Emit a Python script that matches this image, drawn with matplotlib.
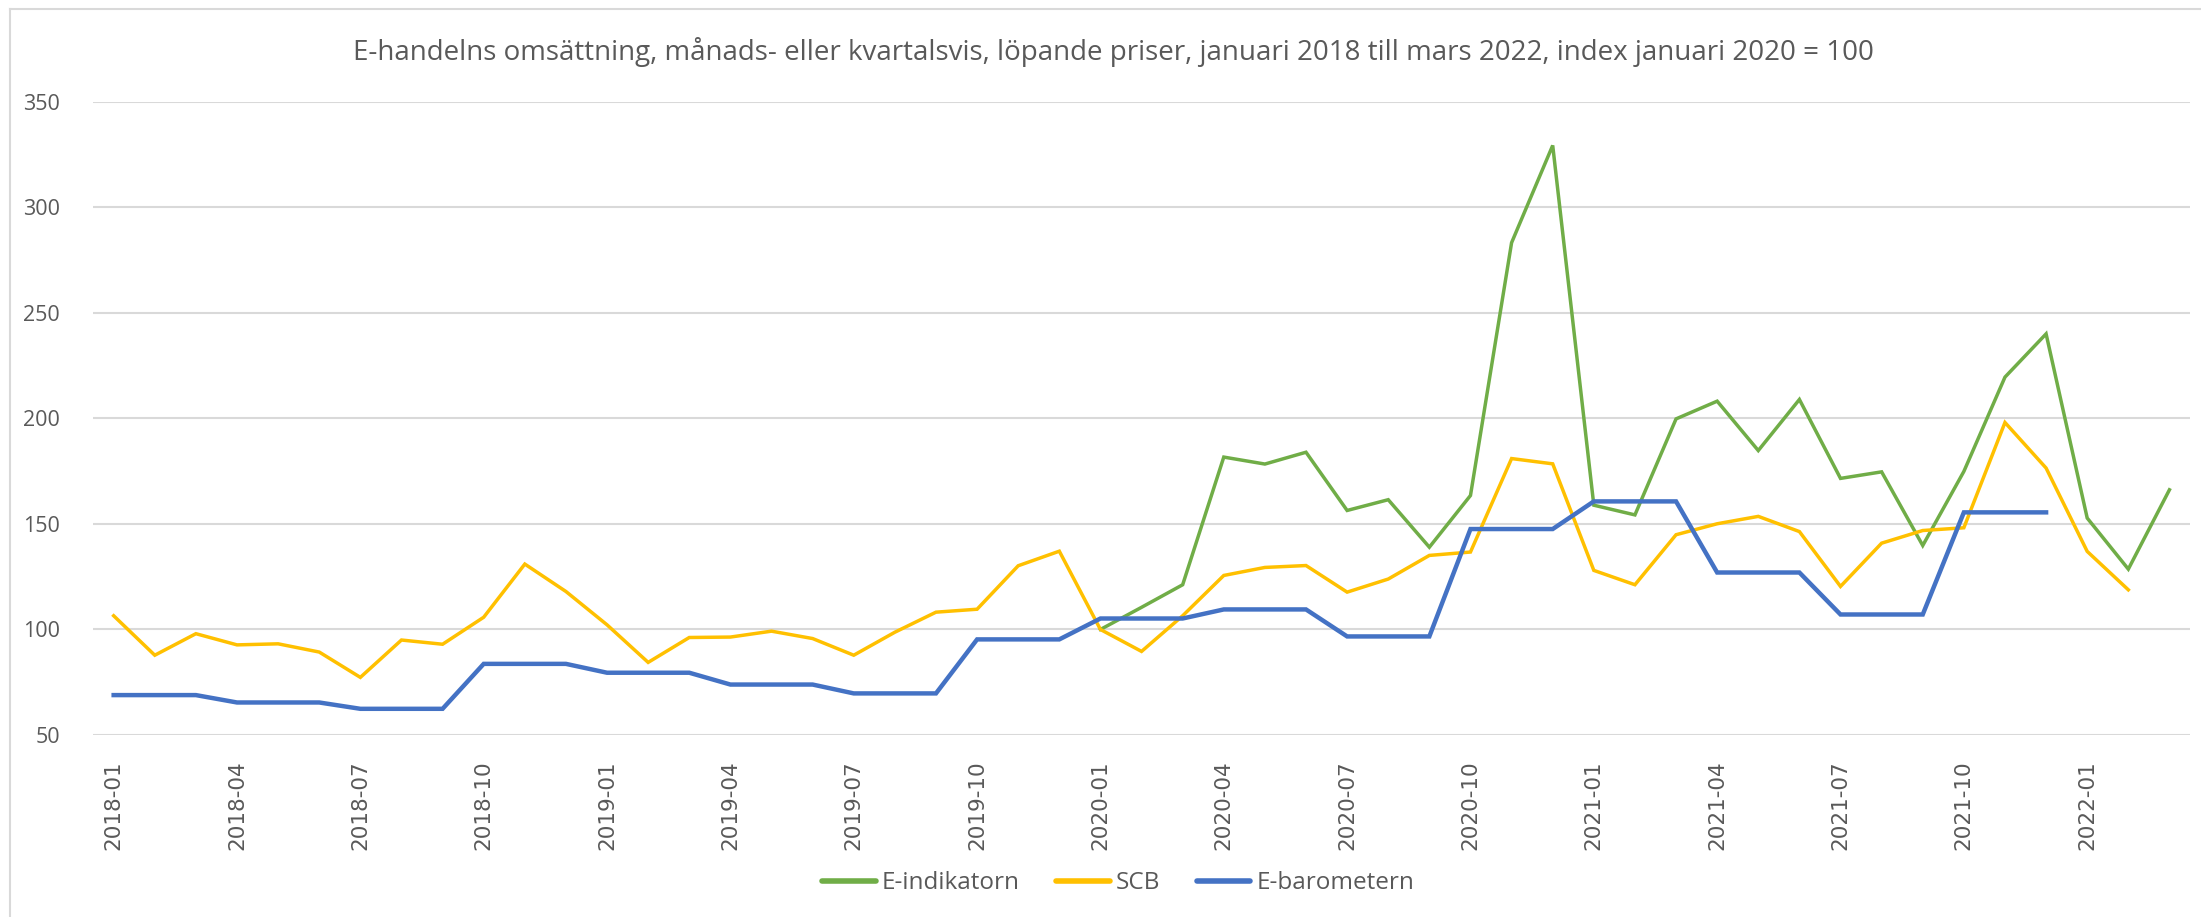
import matplotlib
matplotlib.use("Agg")
import matplotlib.pyplot as plt
from matplotlib.lines import Line2D

# Data (index januari 2020 = 100)
months = [f"{y}-{m:02d}" for y in range(2018, 2023) for m in range(1, 13)][:51]

scb = [106.5, 87.8, 98.0, 92.7, 93.2, 89.3, 77.3, 95.0, 93.0, 105.8, 131.0, 118.0,
       102.2, 84.4, 96.2, 96.4, 99.2, 95.7, 87.8, 98.7, 108.2, 109.6, 130.2, 137.1,
       100.0, 89.6, 106.5, 125.6, 129.4, 130.3, 117.7, 123.9, 135.1, 136.7, 181.0, 178.5,
       128.0, 121.2, 144.9, 150.1, 153.6, 146.4, 120.4, 140.9, 146.9, 148.2, 198.1, 176.5,
       137.0, 118.8, None]

e_indikatorn = [None] * 24 + [
    100.0, 110.5, 121.2, 181.7, 178.4, 184.0, 156.4, 161.5, 139.0, 163.5, 283.3, 329.4,
    158.9, 154.3, 199.8, 208.2, 184.8, 209.0, 171.6, 174.7, 139.8, 174.9, 219.6, 240.1,
    152.8, 128.6, 166.2]

# quarterly values, repeated for each month in the quarter
e_barometern_q = [68.9, 65.4, 62.4, 83.7, 79.5, 73.9, 69.7, 95.3,
                  105.2, 109.5, 96.7, 147.6, 160.7, 127.0, 107.1, 155.5]
e_barometern = [v for v in e_barometern_q for _ in range(3)] + [None] * 3

series = [("E-indikatorn", e_indikatorn, "#70AD47", 2.5),
          ("SCB", scb, "#FFC000", 2.5),
          ("E-barometern", e_barometern, "#4472C4", 3.2)]

font = ["Open Sans", "DejaVu Sans"]
grey = "#595959"

fig = plt.figure(figsize=(22.01, 9.17), dpi=100)
ax = fig.add_axes([0.0423, 0.1985, 0.9527, 0.6903])

x = list(range(len(months)))
handles = []
for name, vals, col, lw in series:
    yv = [float("nan") if v is None else v for v in vals]
    ax.plot(x, yv, color=col, lw=lw, solid_joinstyle="miter")
    handles.append(Line2D([0], [0], color=col, lw=4, solid_capstyle="round"))

ax.set_xlim(-0.5, len(months) - 0.5)
ax.set_ylim(50, 350)
ax.set_yticks(range(50, 351, 50))
ax.set_yticklabels([str(v) for v in range(50, 351, 50)], family=font, fontsize=15.5, color=grey)
ax.set_xticks(x[::3])
ax.set_xticklabels(months[::3], rotation=90, fontsize=15.5, color=grey, family="DejaVu Sans")
ax.tick_params(axis="both", length=0)
ax.tick_params(axis="y", pad=24)
ax.tick_params(axis="x", pad=18)
ax.grid(axis="y", color="#D9D9D9", lw=1.5)
ax.set_axisbelow(True)
for s in ax.spines.values():
    s.set_visible(False)

fig.text(0.506, 0.943, "E-handelns omsättning, månads- eller kvartalsvis, löpande priser, "
         "januari 2018 till mars 2022, index januari 2020 = 100",
         ha="center", va="center", family=font, fontsize=20, color=grey)

fig.legend(handles, [s[0] for s in series], loc="center", bbox_to_anchor=(0.508, 0.037),
           ncol=3, frameon=False, prop={"family": font, "size": 17.5},
           handlelength=2.2, handletextpad=0.25, columnspacing=1.5, labelcolor=grey)

# outer chart border (top and left visible)
fig.add_artist(Line2D([10 / 2201, 1], [1 - 9 / 917, 1 - 9 / 917], color="#D9D9D9", lw=1.5))
fig.add_artist(Line2D([10 / 2201, 10 / 2201], [0, 1 - 9 / 917], color="#D9D9D9", lw=1.5))

fig.savefig("out.png", dpi=100)
